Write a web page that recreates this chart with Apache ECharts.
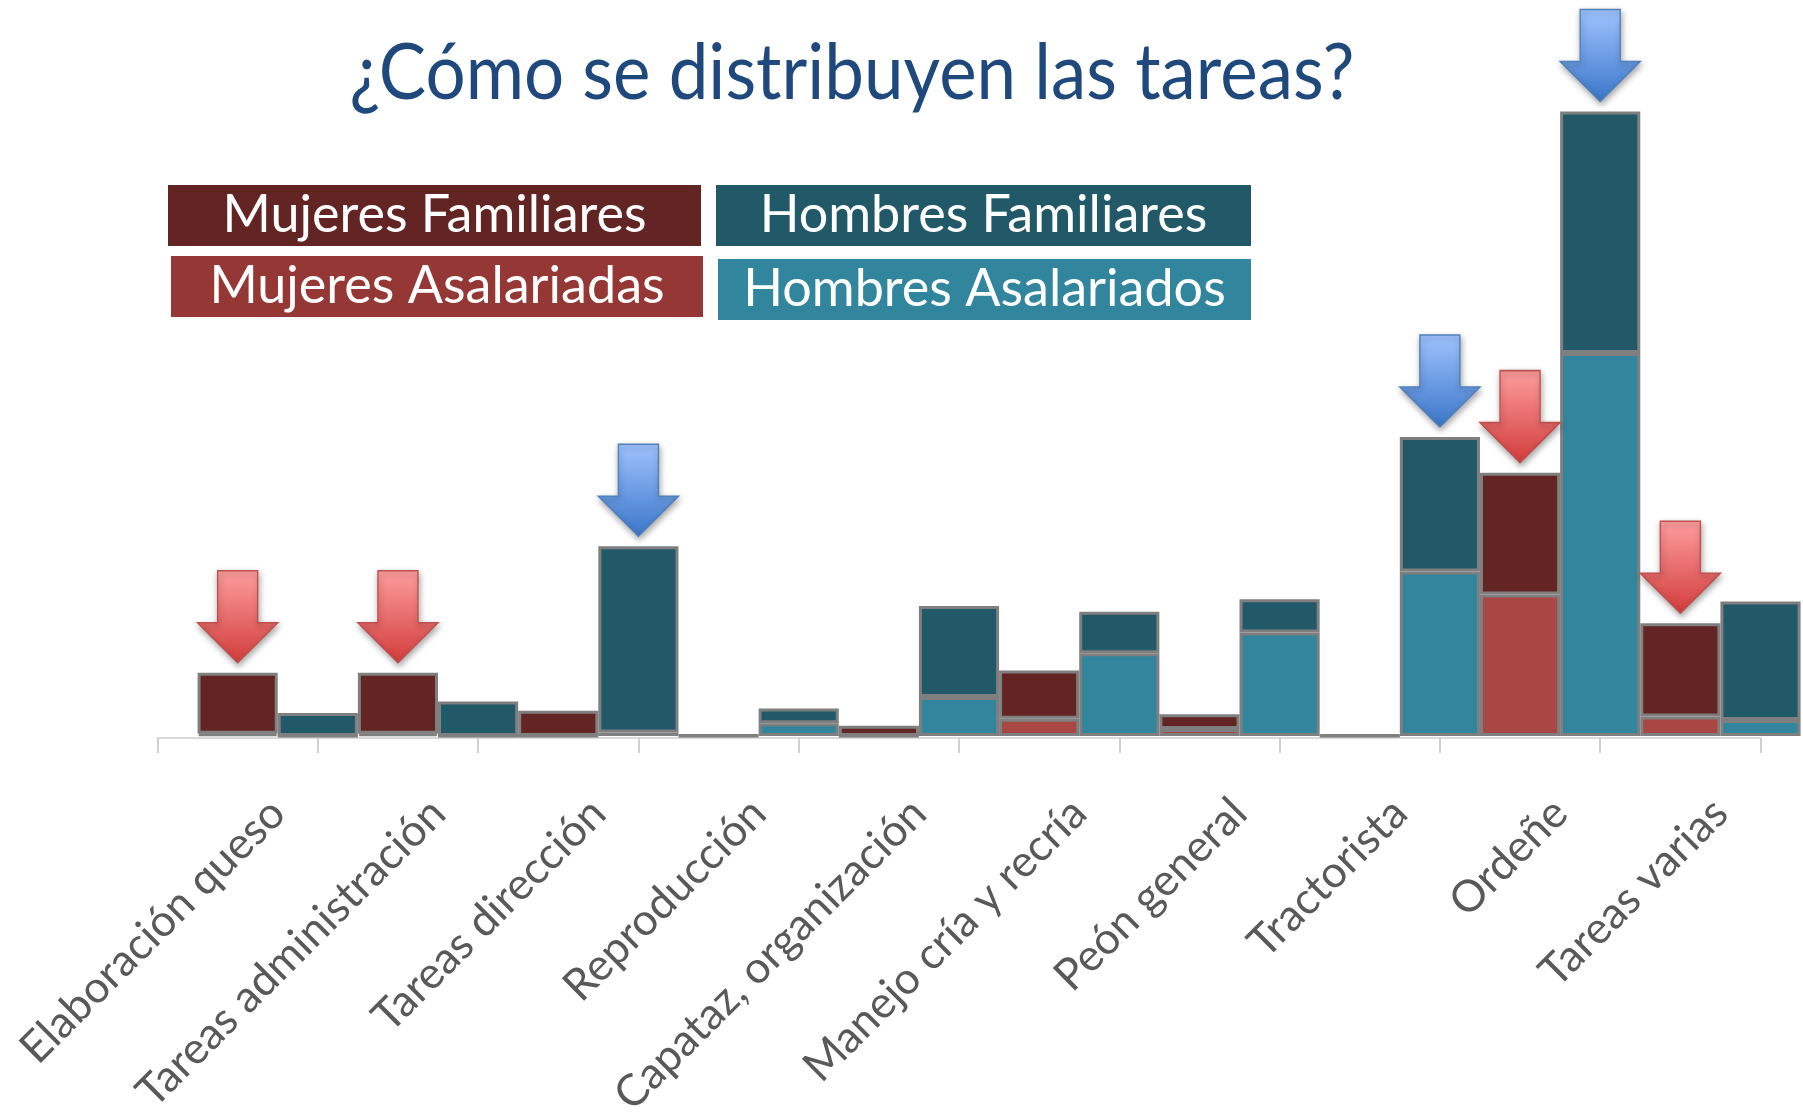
<!DOCTYPE html>
<html>
<head>
<meta charset="utf-8">
<title>¿Cómo se distribuyen las tareas?</title>
<script src="https://cdn.jsdelivr.net/npm/echarts@6/dist/echarts.min.js"></script>
<style>
  html, body { margin: 0; padding: 0; background: #fff; }
  #chart { width: 1803px; height: 1117px; }
</style>
</head>
<body>
<div id="chart"></div>
<script>
// datos (unidades relativas, sin eje Y en el original)
const tareas = [
  "Elaboración queso",
  "Tareas administración",
  "Tareas dirección",
  "Reproducción",
  "Capataz, organización",
  "Manejo cría y recría",
  "Peón general",
  "Tractorista",
  "Ordeñe",
  "Tareas varias",
];
const mujeresAsalariadas = [2, 2, 0, 0, 0, 15, 6, 0, 123, 17];
const mujeresFamiliares = [53, 53, 22, 1, 9, 42, 13, 1, 106, 81];
const hombresAsalariados = [0, 0, 3, 11, 34, 72, 90, 143, 333, 14];
const hombresFamiliares = [20, 30, 162, 13, 79, 36, 29, 117, 210, 103];

// tareas marcadas con flecha
const flechasMujeres = ["Elaboración queso", "Tareas administración", "Ordeñe", "Tareas varias"];
const flechasHombres = ["Tareas dirección", "Tractorista", "Ordeñe"];

const titulo = "¿Cómo se distribuyen las tareas?";
const leyenda = ["Mujeres Familiares", "Hombres Familiares", "Mujeres Asalariadas", "Hombres Asalariados"];

// colores
const colMujFam = "#632523";
const colMujAsal = "#a94744";
const colHomFam = "#215968";
const colHomAsal = "#31859c";

// geometría
const CAT_W = 160.3;
const AXIS_LEFT = 157.5;
const BASE_Y = 736;
const Y_MAX = 640;

const totalMujeres = tareas.map((_, i) => mujeresAsalariadas[i] + mujeresFamiliares[i]);
const totalHombres = tareas.map((_, i) => hombresAsalariados[i] + hombresFamiliares[i]);

function anchoTexto(text, font) {
  const ctx = document.createElement("canvas").getContext("2d");
  ctx.font = font;
  return ctx.measureText(text).width;
}

const fuenteTitulo = "74px Lato";
const escalaTitulo = 1005 / anchoTexto(titulo, fuenteTitulo);
const fuenteLeyenda = "49px Lato";
const escalaLeyenda = 424 / anchoTexto(leyenda[0], fuenteLeyenda);

const flecha = "path://M20,0 L60,0 L60,52 L80,52 L40,92 L0,52 L20,52 Z";

function estiloFlecha(claro, oscuro, borde) {
  return {
    color: new echarts.graphic.LinearGradient(0, 0, 0, 1, [
      { offset: 0, color: claro },
      { offset: 1, color: oscuro },
    ]),
    borderColor: borde,
    borderWidth: 1.5,
    shadowBlur: 6,
    shadowOffsetX: 1,
    shadowOffsetY: 3,
    shadowColor: "rgba(0,0,0,0.35)",
    opacity: 1,
  };
}

function cajaLeyenda(texto, x, y, w, h, fill) {
  return {
    type: "group",
    children: [
      { type: "rect", shape: { x: x, y: y, width: w, height: h }, style: { fill: fill } },
      {
        type: "text",
        x: x + w / 2,
        y: y + h / 2,
        scaleX: escalaLeyenda,
        scaleY: 1.05,
        style: {
          text: texto,
          font: fuenteLeyenda,
          fill: "#fff",
          align: "center",
          verticalAlign: "middle",
        },
      },
    ],
  };
}

const barra = (name, stack, data, color) => ({
  name: name,
  type: "bar",
  stack: stack,
  xAxisIndex: 1,
  yAxisIndex: 1,
  data: data,
  barGap: "0%",
  barCategoryGap: "0%",
  itemStyle: { color: color, borderColor: "#7f7f7f", borderWidth: 3 },
  emphasis: { disabled: true },
  silent: true,
});

const chart = echarts.init(document.getElementById("chart"));
chart.setOption({
  animation: false,
  backgroundColor: "#fff",
  grid: [
    { left: AXIS_LEFT, width: CAT_W * 10, top: 0, bottom: 1117 - BASE_Y - 2, outerBoundsMode: "none" },
    { left: AXIS_LEFT + CAT_W / 4, width: CAT_W * 10, top: 0, bottom: 1117 - BASE_Y, outerBoundsMode: "none" },
  ],
  xAxis: [
    {
      gridIndex: 0,
      type: "category",
      data: tareas,
      axisLine: { show: true, lineStyle: { color: "#d9d9d9", width: 2 } },
      axisTick: { show: true, interval: 0, length: 15, lineStyle: { color: "#d0d0d0", width: 2 } },
      axisLabel: { show: false },
    },
    {
      gridIndex: 1,
      type: "category",
      data: tareas,
      axisLine: { show: false },
      axisTick: { show: false },
      axisLabel: {
        interval: 0,
        rotate: 45,
        margin: 70,
        color: "#595959",
        fontFamily: "Lato",
        fontSize: 44,
      },
    },
  ],
  yAxis: [
    { gridIndex: 0, type: "value", show: false, min: 0, max: Y_MAX },
    { gridIndex: 1, type: "value", show: false, min: 0, max: Y_MAX },
  ],
  series: [
    barra("Mujeres Asalariadas", "mujeres", mujeresAsalariadas, colMujAsal),
    barra("Mujeres Familiares", "mujeres", mujeresFamiliares, colMujFam),
    barra("Hombres Asalariados", "hombres", hombresAsalariados, colHomAsal),
    barra("Hombres Familiares", "hombres", hombresFamiliares, colHomFam),
    {
      type: "scatter",
      xAxisIndex: 1,
      yAxisIndex: 1,
      data: flechasMujeres.map((t) => [t, totalMujeres[tareas.indexOf(t)]]),
      symbol: flecha,
      symbolSize: [80, 92],
      symbolOffset: [-CAT_W / 4, -56],
      itemStyle: estiloFlecha("#ff9e9e", "#d23c3c", "#c0504d"),
      silent: true,
      z: 5,
    },
    {
      type: "scatter",
      xAxisIndex: 1,
      yAxisIndex: 1,
      data: flechasHombres.map((t) => [t, totalHombres[tareas.indexOf(t)]]),
      symbol: flecha,
      symbolSize: [80, 92],
      symbolOffset: [CAT_W / 4, -56],
      itemStyle: estiloFlecha("#a0c4ff", "#3a76c9", "#4f81bd"),
      silent: true,
      z: 5,
    },
  ],
  graphic: [
    {
      type: "text",
      x: 852,
      y: 74,
      scaleX: escalaTitulo,
      scaleY: 1.05,
      style: {
        text: titulo,
        font: fuenteTitulo,
        fill: "#1f497d",
        align: "center",
        verticalAlign: "middle",
      },
    },
    cajaLeyenda(leyenda[0], 168, 185, 533, 61, colMujFam),
    cajaLeyenda(leyenda[1], 716, 185, 535, 61, colHomFam),
    cajaLeyenda(leyenda[2], 171, 256, 532, 61, "#953735"),
    cajaLeyenda(leyenda[3], 718, 259, 533, 61, colHomAsal),
  ],
});
</script>
</body>
</html>
